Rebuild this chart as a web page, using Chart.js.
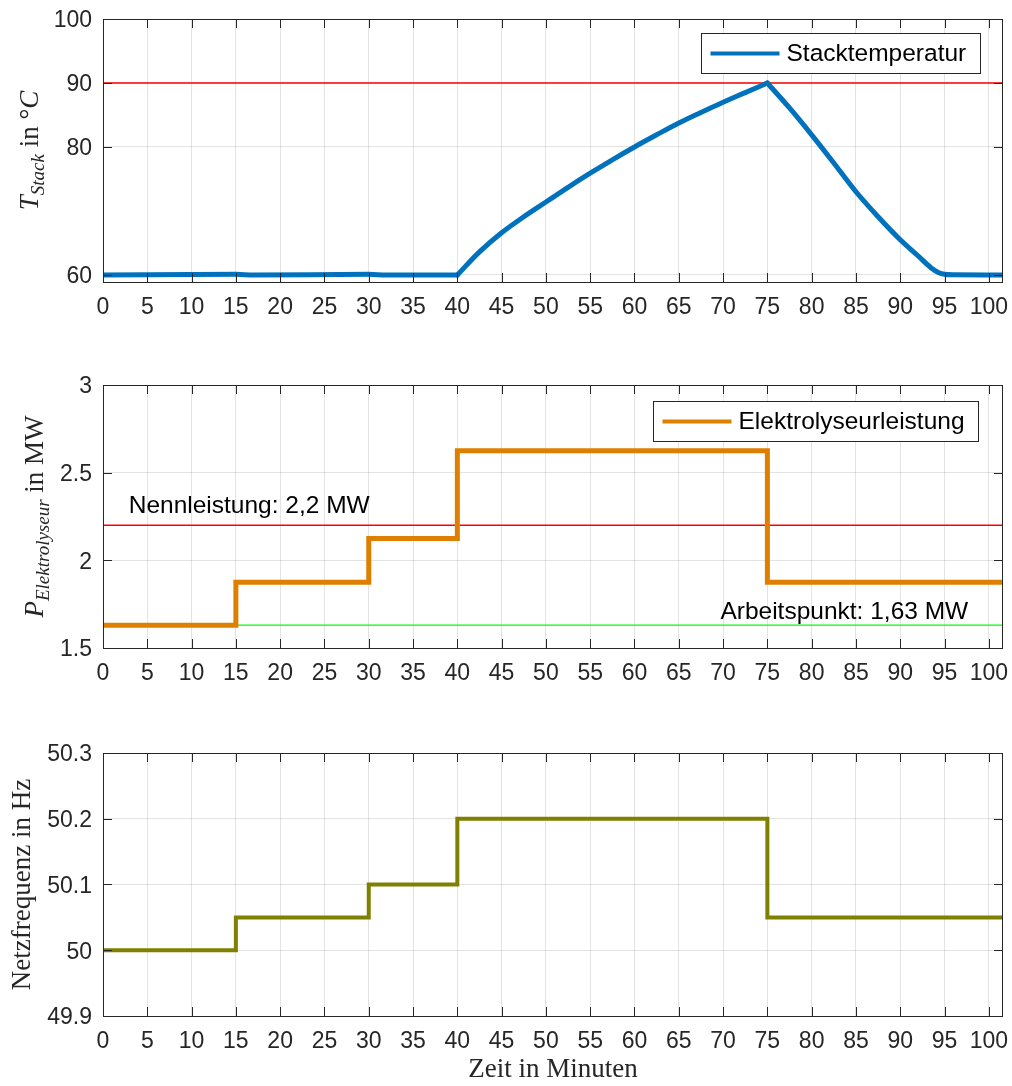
<!DOCTYPE html>
<html>
<head>
<meta charset="utf-8">
<script src="https://cdn.jsdelivr.net/npm/chart.js@4.4.1/dist/chart.umd.min.js"></script>
<style>
  html, body { margin: 0; padding: 0; background: #fff; }
  #wrap { position: relative; width: 1012px; height: 1086px; }
  .pane { position: absolute; left: 0; width: 1012px; }
</style>
</head>
<body>
<div id="wrap">
  <div class="pane" style="top:0;height:330px"><canvas id="tempChart"></canvas></div>
  <div class="pane" style="top:330px;height:370px"><canvas id="powerChart"></canvas></div>
  <div class="pane" style="top:700px;height:386px"><canvas id="freqChart"></canvas></div>
</div>
<script>
// --- data ---
const xMax = 101.6;
const xTicks = [0, 5, 10, 15, 20, 25, 30, 35, 40, 45, 50, 55, 60, 65, 70, 75, 80, 85, 90, 95, 100];

const tempTime   = [0, 15, 17, 30, 32, 40, 42.5, 45, 47.5, 50, 52.5, 55, 57.5, 60, 62.5, 65, 67.5, 70, 72.5, 75,
                    77.5, 80, 82.5, 85, 87.5, 90, 92, 93.5, 94.3, 95, 96, 101.6];
const tempValues = [60, 60.1, 60, 60.1, 60, 60, 63.6, 66.6, 69.1, 71.4, 73.7, 75.9, 78, 80, 81.9, 83.75, 85.4, 87.0, 88.5, 90,
                    86.1, 81.9, 77.5, 73.0, 69.1, 65.5, 63.0, 61.1, 60.4, 60.1, 60.02, 60];
const tempTicks = [60, 80, 90, 100];
const tempLimit = 90;
const heatStart = 40;   // minute the stack starts heating
const heatPeak = 75;    // minute the stack reaches 90 °C

const stepTime    = [0, 15, 30, 40, 75, 101.6];
const powerValues = [1.63, 1.875, 2.125, 2.625, 1.875, 1.875];
const powerTicks  = [1.5, 2, 2.5, 3];
const ratedPower = 2.2;
const operatingPoint = 1.63;

const freqValues = [50, 50.05, 50.1, 50.2, 50.05, 50.05];
const freqTicks  = [49.9, 50, 50.1, 50.2, 50.3];

// --- styling ---
const AXIS = '#262626';
const SANS = '"Liberation Sans", Arial, sans-serif';
const SERIF = '"Liberation Serif", "DejaVu Serif", serif';

const pts = (xs, ys) => xs.map((x, i) => ({ x: x, y: ys[i] }));
const hline = (y) => [{ x: 0, y: y }, { x: xMax, y: y }];

// split the temperature trace at the two corners so each part is smoothed on its own
const iStart = tempTime.indexOf(heatStart);
const iPeak = tempTime.indexOf(heatPeak);
const tempParts = [
  pts(tempTime.slice(0, iStart + 1), tempValues.slice(0, iStart + 1)),
  pts(tempTime.slice(iStart, iPeak + 1), tempValues.slice(iStart, iPeak + 1)),
  pts(tempTime.slice(iPeak), tempValues.slice(iPeak))
];

function drawRich(ctx, parts, cx, cy, rotate) {
  ctx.save();
  ctx.translate(cx, cy);
  if (rotate) ctx.rotate(-Math.PI / 2);
  let w = 0;
  parts.forEach(p => { ctx.font = p.font; w += ctx.measureText(p.text).width; });
  let x = -w / 2;
  ctx.textAlign = 'left';
  ctx.textBaseline = 'alphabetic';
  ctx.fillStyle = AXIS;
  parts.forEach(p => {
    ctx.font = p.font;
    ctx.fillText(p.text, x, p.dy || 0);
    x += ctx.measureText(p.text).width;
  });
  ctx.restore();
}

// box, inward ticks, legend, notes and axis titles (MATLAB look)
function makeDeco(cfg) {
  return {
    id: 'deco',
    afterDraw(chart) {
      const ctx = chart.ctx;
      const a = chart.chartArea;
      const xs = chart.scales.x, ys = chart.scales.y;
      ctx.save();
      ctx.strokeStyle = AXIS;
      ctx.lineWidth = 1;
      ctx.beginPath();
      xs.ticks.forEach(t => {
        const px = Math.round(xs.getPixelForValue(t.value)) + 0.5;
        ctx.moveTo(px, a.bottom); ctx.lineTo(px, a.bottom - 9);
        ctx.moveTo(px, a.top); ctx.lineTo(px, a.top + 9);
      });
      ys.ticks.forEach(t => {
        const py = Math.round(ys.getPixelForValue(t.value)) + 0.5;
        ctx.moveTo(a.left, py); ctx.lineTo(a.left + 9, py);
        ctx.moveTo(a.right, py); ctx.lineTo(a.right - 9, py);
      });
      ctx.stroke();
      ctx.strokeRect(Math.round(a.left) + 0.5, Math.round(a.top) + 0.5,
                     Math.round(a.right - a.left) - 1, Math.round(a.bottom - a.top));

      if (cfg.legend) {
        const lg = cfg.legend;
        ctx.font = '24.5px ' + SANS;
        const tw = ctx.measureText(lg.text).width;
        const bw = Math.round(9 + 69 + 7 + tw + 14), bh = 40;
        const bx = Math.round(a.right - lg.right - bw) + 0.5;
        const by = Math.round(a.top + lg.top) + 0.5;
        ctx.fillStyle = '#fff';
        ctx.fillRect(bx, by, bw, bh);
        ctx.strokeStyle = AXIS;
        ctx.strokeRect(bx, by, bw, bh);
        ctx.strokeStyle = lg.color;
        ctx.lineWidth = 4;
        ctx.beginPath();
        ctx.moveTo(bx + 9, by + bh / 2); ctx.lineTo(bx + 78, by + bh / 2);
        ctx.stroke();
        ctx.fillStyle = '#000';
        ctx.textBaseline = 'middle';
        ctx.textAlign = 'left';
        ctx.fillText(lg.text, bx + 85, by + bh / 2 + 1);
      }

      (cfg.notes || []).forEach(n => {
        ctx.font = '24.5px ' + SANS;
        ctx.fillStyle = '#000';
        ctx.textBaseline = 'alphabetic';
        ctx.textAlign = 'left';
        ctx.fillText(n.text, xs.getPixelForValue(n.x), ys.getPixelForValue(n.y) - n.lift);
      });
      ctx.restore();

      drawRich(ctx, cfg.yTitle, cfg.yTitleX, (a.top + a.bottom) / 2, true);
      if (cfg.xTitle) drawRich(ctx, cfg.xTitle, (a.left + a.right) / 2, cfg.xTitleY, false);
    }
  };
}

const fmt = v => String(+(+v).toFixed(2));

function makeOptions(yMin, yMax, yTicks, padTop, xHeight) {
  return {
    responsive: true,
    maintainAspectRatio: false,
    animation: false,
    layout: { padding: { top: padTop, right: 9, left: 0, bottom: 0 } },
    plugins: { legend: { display: false }, tooltip: { enabled: false } },
    elements: { point: { radius: 0 } },
    scales: {
      x: {
        type: 'linear', min: 0, max: xMax,
        afterBuildTicks: s => { s.ticks = xTicks.map(v => ({ value: v })); },
        afterFit: s => { s.height = xHeight; s.paddingLeft = 0; s.paddingRight = 0; },
        grid: { color: 'rgba(38,38,38,0.13)', drawTicks: false },
        border: { display: false },
        ticks: { padding: 12, color: AXIS, font: { family: SANS, size: 23 }, maxRotation: 0, callback: fmt }
      },
      y: {
        type: 'linear', min: yMin, max: yMax,
        afterBuildTicks: s => { s.ticks = yTicks.map(v => ({ value: v })); },
        afterFit: s => { s.width = 103; s.paddingTop = 0; s.paddingBottom = 0; },
        grid: { color: 'rgba(38,38,38,0.13)', drawTicks: false },
        border: { display: false },
        // empty first line nudges the label ~2px down so digits sit centred on the tick
        ticks: { padding: 11, color: AXIS, font: { family: SANS, size: 23, lineHeight: '4px' },
                 callback: v => ['', fmt(v)] }
      }
    }
  };
}

// --- Stacktemperatur ---
const tempLine = { borderColor: '#0072BD', borderWidth: 5, cubicInterpolationMode: 'monotone',
                   borderJoinStyle: 'round', borderCapStyle: 'round', fill: false };
new Chart(document.getElementById('tempChart'), {
  type: 'line',
  data: {
    datasets: tempParts.map(d => Object.assign({ data: d }, tempLine)).concat([
      { data: hline(tempLimit), borderColor: '#FF0000', borderWidth: 1.3, fill: false }
    ])
  },
  options: makeOptions(58.9, 100, tempTicks, 19, 48),
  plugins: [makeDeco({
    legend: { text: 'Stacktemperatur', color: '#0072BD', right: 23, top: 14 },
    yTitleX: 38,
    yTitle: [
      { text: 'T', font: 'italic 27px ' + SERIF },
      { text: 'Stack', font: 'italic 19px ' + SERIF, dy: 6 },
      { text: ' in ', font: '27px ' + SERIF },
      { text: '\u00B0', font: '27px ' + SERIF },
      { text: 'C', font: 'italic 27px ' + SERIF }
    ]
  })]
});

// --- Elektrolyseurleistung ---
new Chart(document.getElementById('powerChart'), {
  type: 'line',
  data: {
    datasets: [
      { data: pts(stepTime, powerValues), borderColor: '#DE7F00', borderWidth: 5, stepped: 'before', fill: false },
      { data: hline(ratedPower), borderColor: '#FF0000', borderWidth: 1.3, fill: false },
      { data: hline(operatingPoint), borderColor: '#00FF00', borderWidth: 1.3, fill: false }
    ]
  },
  options: makeOptions(1.5, 3, powerTicks, 55, 52),
  plugins: [makeDeco({
    legend: { text: 'Elektrolyseurleistung', color: '#DE7F00', right: 25, top: 16 },
    notes: [
      { text: 'Nennleistung: 2,2 MW', x: 2.9, y: ratedPower, lift: 12 },
      { text: 'Arbeitspunkt: 1,63 MW', x: 69.7, y: operatingPoint, lift: 6 }
    ],
    yTitleX: 43,
    yTitle: [
      { text: 'P', font: 'italic 27px ' + SERIF },
      { text: 'Elektrolyseur', font: 'italic 19px ' + SERIF, dy: 6 },
      { text: ' in MW', font: '27px ' + SERIF }
    ]
  })]
});

// --- Netzfrequenz ---
new Chart(document.getElementById('freqChart'), {
  type: 'line',
  data: {
    datasets: [
      { data: pts(stepTime, freqValues), borderColor: '#808000', borderWidth: 4, stepped: 'before', fill: false }
    ]
  },
  options: makeOptions(49.9, 50.3, freqTicks, 53, 70),
  plugins: [makeDeco({
    yTitleX: 30,
    yTitle: [{ text: 'Netzfrequenz in Hz', font: '27px ' + SERIF }],
    xTitleY: 377,
    xTitle: [{ text: 'Zeit in Minuten', font: '27px ' + SERIF }]
  })]
});
</script>
</body>
</html>
